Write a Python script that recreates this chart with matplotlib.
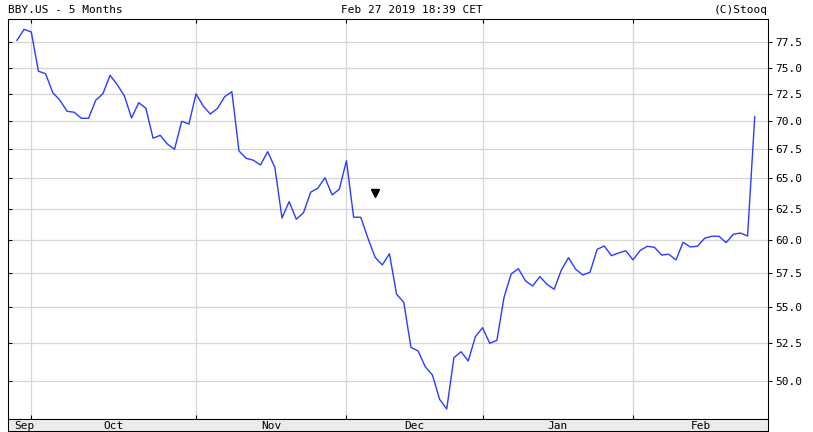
import numpy as np
import matplotlib.pyplot as plt
from matplotlib.ticker import FixedLocator, NullLocator, NullFormatter, FormatStrFormatter

# BBY.US daily closes, Sep 27 2018 .. Feb 27 2019
closes = [77.70, 78.81, 78.54, 74.65, 74.41, 72.61, 71.90, 70.88, 70.79, 70.24,
          70.24, 71.90, 72.51, 74.26, 73.36, 72.30, 70.27, 71.67, 71.16, 68.45,
          68.71, 67.94, 67.48, 69.97, 69.72, 72.49, 71.37, 70.63, 71.16, 72.23,
          72.70, 67.33, 66.70, 66.53, 66.12, 67.27, 65.93, 61.74, 63.06, 61.64,
          62.16, 63.83, 64.16, 65.04, 63.61, 64.08, 66.49, 61.80, 61.80, 60.14,
          58.68, 58.10, 58.95, 55.94, 55.36, 52.23, 51.98, 50.93, 50.39, 48.83,
          48.22, 51.53, 51.93, 51.31, 52.95, 53.57, 52.50, 52.70, 55.72, 57.43,
          57.82, 56.91, 56.54, 57.23, 56.66, 56.30, 57.72, 58.65, 57.78, 57.35,
          57.55, 59.29, 59.54, 58.80, 59.01, 59.18, 58.48, 59.20, 59.52, 59.44,
          58.85, 58.91, 58.48, 59.83, 59.47, 59.52, 60.14, 60.30, 60.30, 59.80,
          60.45, 60.55, 60.32, 70.39]

month_names = ['Sep', 'Oct', 'Nov', 'Dec', 'Jan', 'Feb']
month_start = [0, 2, 25, 46, 65, 86]   # index of first trading day of each month
axis_end = 105

event_idx = [50]
event_val = [63.75]

y_ticks = [50.0, 52.5, 55.0, 57.5, 60.0, 62.5, 65.0, 67.5, 70.0, 72.5, 75.0, 77.5]

W, H = 813, 432
MONO = 'DejaVu Sans Mono'


def box(l, t, r, b):
    return [l / W, 1 - b / H, (r - l) / W, (b - t) / H]


fig = plt.figure(figsize=(W / 100, H / 100), dpi=100)
fig.patch.set_facecolor('white')

ax = fig.add_axes(box(8, 19, 768, 419))
x = np.arange(len(closes))
ax.plot(x, closes, color='#2a3cff', lw=1.0, zorder=3)
ax.plot(event_idx, event_val, 'v', color='black', ms=5.5, zorder=4)

ylim = (47.6, 79.87)
xlim = (-1.25, 104.85)
ax.set_yscale('log')
ax.set_ylim(ylim)
ax.set_xlim(xlim)

ax.yaxis.set_major_locator(FixedLocator(y_ticks))
ax.yaxis.set_minor_locator(NullLocator())
ax.yaxis.set_major_formatter(NullFormatter())
ax.set_xticks(month_start[1:])
ax.set_xticklabels([])
ax.tick_params(axis='y', direction='in', length=3, width=0.75, left=True, right=False)
ax.tick_params(axis='x', direction='in', length=3, width=0.75, top=True, bottom=True)
ax.grid(True, color='#d6d6d6', lw=0.9)
ax.set_axisbelow(True)
for s in ax.spines.values():
    s.set_linewidth(0.75)
    s.set_color('black')

# price labels on the right
axr = ax.twinx()
axr.set_yscale('log')
axr.set_ylim(ylim)
axr.yaxis.set_major_locator(FixedLocator(y_ticks))
axr.yaxis.set_minor_locator(NullLocator())
axr.yaxis.set_major_formatter(FormatStrFormatter('%.1f'))
axr.tick_params(axis='y', direction='out', length=3, width=0.75, pad=2, labelsize=8)
for lab in axr.get_yticklabels():
    lab.set_family(MONO)
for s in axr.spines.values():
    s.set_linewidth(0.75)

# month band under the plot
axb = fig.add_axes(box(8, 419, 768, 431))
axb.set_facecolor('#ebebeb')
axb.set_xlim(xlim)
axb.set_ylim(0, 1)
axb.set_xticks([])
axb.set_yticks([])
for s in axb.spines.values():
    s.set_linewidth(0.75)
ends = month_start[1:] + [axis_end]
for name, a, b in zip(month_names, month_start, ends):
    axb.text((a + b) / 2, 0.45, name, ha='center', va='center',
             fontsize=8, family=MONO)

# header line
fig.text(8 / W, 1 - 10 / H, 'BBY.US - 5 Months', ha='left', va='center',
         fontsize=8, family=MONO)
fig.text(412 / W, 1 - 10 / H, 'Feb 27 2019 18:39 CET', ha='center', va='center',
         fontsize=8, family=MONO)
fig.text(768 / W, 1 - 10 / H, '(C)Stooq', ha='right', va='center',
         fontsize=8, family=MONO)

fig.savefig('out.png', dpi=100)
